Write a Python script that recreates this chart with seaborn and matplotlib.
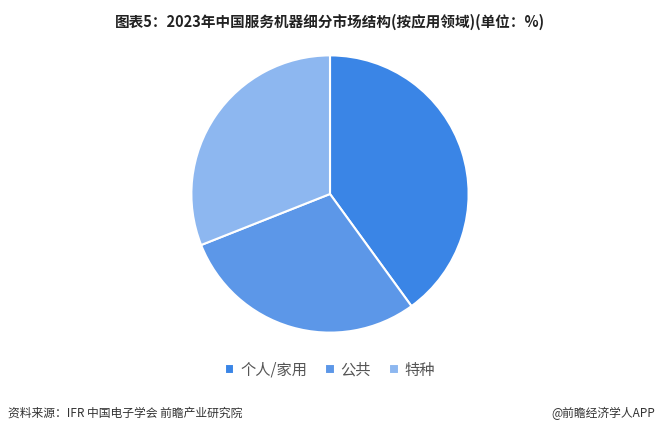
import numpy as np
import pandas as pd
import matplotlib
matplotlib.use("Agg")
import matplotlib.pyplot as plt
import seaborn as sns

labels = ["个人/家用", "公共", "特种"]
shares = [40, 29, 31]
colors = ["#3A85E6", "#5C97E8", "#8DB7F0"]

sns.set_theme(style="white")
plt.rcParams["font.family"] = ["Noto Sans CJK SC", "DejaVu Sans"]

fig = plt.figure(figsize=(6.6, 4.33), dpi=100)
ax = fig.add_axes([190/660, 99/433, 280/660, 280/433])
wedges, _ = ax.pie(shares, colors=sns.color_palette(colors), startangle=90, counterclock=False,
                   wedgeprops=dict(edgecolor="white", linewidth=1.5), radius=1)
ax.set_xlim(-1.01, 1.01)
ax.set_ylim(-1.01, 1.01)
ax.set_aspect("equal")

fig.text(0.5, 1 - 22/433, "图表5：2023年中国服务机器细分市场结构(按应用领域)(单位：%)",
         ha="center", va="center", fontsize=10.5, fontweight="bold", color="#222222")

fig.legend(wedges, labels, loc="center", bbox_to_anchor=(0.5, 1 - 370/433), ncol=3,
           frameon=False, fontsize=11, handlelength=0.6, handleheight=0.6,
           handletextpad=0.4, columnspacing=1.2, labelcolor="#555555")

fig.text(8/660, 1 - 413/433, "资料来源：IFR 中国电子学会 前瞻产业研究院", ha="left", va="center",
         fontsize=8.5, color="#333333")
fig.text(655/660, 1 - 413/433, "@前瞻经济学人APP", ha="right", va="center",
         fontsize=8.5, color="#333333")

fig.savefig("out.png", dpi=100)
